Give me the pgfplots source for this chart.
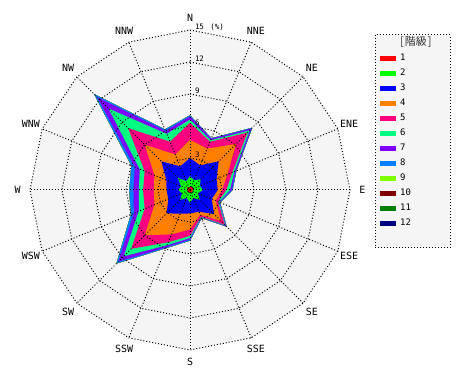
\documentclass[border=0pt]{standalone}
\usepackage{pgfplots}
\pgfplotsset{compat=1.18}
\usepackage{pgfplotstable}
\usepackage{fontspec}
\setmainfont{DejaVu Sans Mono}
\newfontfamily\cjk{Noto Sans CJK JP}
\definecolor{k1}{HTML}{FF0000}
\definecolor{k2}{HTML}{00FF00}
\definecolor{k3}{HTML}{0000FF}
\definecolor{k4}{HTML}{FF8000}
\definecolor{k5}{HTML}{FF0080}
\definecolor{k6}{HTML}{00FF80}
\definecolor{k7}{HTML}{8000FF}
\definecolor{k8}{HTML}{0080FF}
\definecolor{k9}{HTML}{80FF00}
\definecolor{k10}{HTML}{800000}
\definecolor{k11}{HTML}{008000}
\definecolor{k12}{HTML}{000080}
\definecolor{bg}{HTML}{F5F5F5}

% cumulative frequency (%) by direction (degrees clockwise from N)
\pgfplotstableread{
ang   c1   c2   c3   c4   c5   c6    c7    c8    c9    c10   c11   c12
0     0.3  1.3  3.0  4.7  6.3  6.6   6.9   7.0   7.0   7.0   7.0   7.0
22.5  0.3  1.0  2.5  4.2  4.9  5.05  5.2   5.25  5.25  5.25  5.25  5.25
45    0.4  1.4  3.8  6.1  7.6  7.9   8.15  8.25  8.25  8.25  8.25  8.25
67.5  0.3  1.0  2.7  3.8  4.3  4.5   4.65  4.7   4.7   4.7   4.7   4.7
90    0.3  1.2  2.6  3.0  3.4  3.75  3.9   4.0   4.0   4.0   4.0   4.0
112.5 0.2  0.8  2.2  2.6  2.85 2.95  3.0   3.05  3.05  3.05  3.05  3.05
135   0.3  1.3  3.2  4.1  4.6  4.7   4.8   4.85  4.85  4.85  4.85  4.85
157.5 0.2  0.8  2.2  2.5  2.7  2.75  2.8   2.85  2.85  2.85  2.85  2.85
180   0.3  1.2  2.2  3.7  4.3  4.5   4.65  4.75  4.75  4.75  4.75  4.75
202.5 0.2  0.8  2.4  4.5  5.3  5.6   5.8   5.9   5.9   5.9   5.9   5.9
225   0.3  1.3  3.1  6.0  7.8  8.8   9.5   9.75  9.75  9.75  9.75  9.75
247.5 0.2  0.8  2.2  3.6  4.6  5.2   5.7   6.0   6.0   6.0   6.0   6.0
270   0.3  1.1  2.2  3.4  4.4  4.8   5.3   5.7   5.7   5.7   5.7   5.7
292.5 0.2  0.9  2.4  3.6  4.6  5.1   5.6   5.95  5.95  5.95  5.95  5.95
315   0.4  1.6  3.8  6.0  8.2  10.8  12.3  12.7  12.7  12.7  12.7  12.7
337.5 0.2  0.9  2.4  3.6  4.9  5.7   6.0   6.15  6.15  6.15  6.15  6.15
360   0.3  1.3  3.0  4.7  6.3  6.6   6.9   7.0   7.0   7.0   7.0   7.0
}\wind

\tikzset{gridline/.style={line width=1bp, dash pattern=on 1bp off 2bp, black}}

\begin{document}
\begin{tikzpicture}
\begin{axis}[
  width=470bp, height=380bp, scale only axis,
  xmin=-17.8125, xmax=26.25, ymin=-17.8125, ymax=17.8125,
  hide axis, clip=false,
  legend image code/.code={\fill[#1] (0bp,-2.2bp) rectangle (16bp,2.2bp);},
  legend cell align=left,
  legend style={at={(axis cs:17.8125,14.2)}, anchor=north west, draw=none, fill=none,
    inner sep=0pt, row sep=5.5bp, column sep=4bp,
    font=\fontsize{9}{9}\selectfont,
    nodes={inner sep=0pt, text height=6.5bp, text depth=3bp}},
]
% full picture area
\path (axis cs:-17.8125,-17.8125) rectangle (axis cs:26.25,17.8125);
% background polygon and legend box
\addplot[fill=bg, draw=none, forget plot] table[x expr={15*sin(\thisrow{ang})}, y expr={15*cos(\thisrow{ang})}] {\wind};
\draw[gridline, fill=bg] (axis cs:17.344,14.531) rectangle (axis cs:24.375,-5.4375);

% stacked classes, outermost first
\addplot[fill=k12, draw=none, forget plot] table[x expr={\thisrow{c12}*sin(\thisrow{ang})}, y expr={\thisrow{c12}*cos(\thisrow{ang})}] {\wind};
\addplot[fill=k11, draw=none, forget plot] table[x expr={\thisrow{c11}*sin(\thisrow{ang})}, y expr={\thisrow{c11}*cos(\thisrow{ang})}] {\wind};
\addplot[fill=k10, draw=none, forget plot] table[x expr={\thisrow{c10}*sin(\thisrow{ang})}, y expr={\thisrow{c10}*cos(\thisrow{ang})}] {\wind};
\addplot[fill=k9, draw=none, forget plot] table[x expr={\thisrow{c9}*sin(\thisrow{ang})}, y expr={\thisrow{c9}*cos(\thisrow{ang})}] {\wind};
\addplot[fill=k8, draw=none, forget plot] table[x expr={\thisrow{c8}*sin(\thisrow{ang})}, y expr={\thisrow{c8}*cos(\thisrow{ang})}] {\wind};
\addplot[fill=k7, draw=none, forget plot] table[x expr={\thisrow{c7}*sin(\thisrow{ang})}, y expr={\thisrow{c7}*cos(\thisrow{ang})}] {\wind};
\addplot[fill=k6, draw=none, forget plot] table[x expr={\thisrow{c6}*sin(\thisrow{ang})}, y expr={\thisrow{c6}*cos(\thisrow{ang})}] {\wind};
\addplot[fill=k5, draw=none, forget plot] table[x expr={\thisrow{c5}*sin(\thisrow{ang})}, y expr={\thisrow{c5}*cos(\thisrow{ang})}] {\wind};
\addplot[fill=k4, draw=none, forget plot] table[x expr={\thisrow{c4}*sin(\thisrow{ang})}, y expr={\thisrow{c4}*cos(\thisrow{ang})}] {\wind};
\addplot[fill=k3, draw=none, forget plot] table[x expr={\thisrow{c3}*sin(\thisrow{ang})}, y expr={\thisrow{c3}*cos(\thisrow{ang})}] {\wind};
\addplot[fill=k2, draw=none, forget plot] table[x expr={\thisrow{c2}*sin(\thisrow{ang})}, y expr={\thisrow{c2}*cos(\thisrow{ang})}] {\wind};
\addplot[fill=k1, draw=none, forget plot] table[x expr={\thisrow{c1}*sin(\thisrow{ang})}, y expr={\thisrow{c1}*cos(\thisrow{ang})}] {\wind};

% grid rings
\pgfplotsinvokeforeach{3,6,9,12,15}{
  \addplot[gridline, forget plot] table[x expr={#1*sin(\thisrow{ang})}, y expr={#1*cos(\thisrow{ang})}] {\wind};
}
% spokes
\draw[gridline] (axis cs:0,15) -- (axis cs:0,-15);
\draw[gridline] (axis cs:5.740,13.858) -- (axis cs:-5.740,-13.858);
\draw[gridline] (axis cs:10.607,10.607) -- (axis cs:-10.607,-10.607);
\draw[gridline] (axis cs:13.858,5.740) -- (axis cs:-13.858,-5.740);
\draw[gridline] (axis cs:15,0) -- (axis cs:-15,0);
\draw[gridline] (axis cs:13.858,-5.740) -- (axis cs:-13.858,5.740);
\draw[gridline] (axis cs:10.607,-10.607) -- (axis cs:-10.607,10.607);
\draw[gridline] (axis cs:5.740,-13.858) -- (axis cs:-5.740,13.858);

% radial tick labels
\begin{scope}[every node/.style={anchor=base west, inner sep=0pt, font=\fontsize{7.5}{7.5}\selectfont}]
\node at (axis cs:0.45,3.05) {3};
\node at (axis cs:0.45,6.05) {6};
\node at (axis cs:0.45,9.05) {9};
\node at (axis cs:0.45,12.05) {12};
\node at (axis cs:0.45,15.05) {15};
\node at (axis cs:1.9,15.05) {(\%)};
\end{scope}

% direction labels
\begin{scope}[every node/.style={anchor=center, inner sep=0pt, font=\fontsize{10}{10}\selectfont}]
\node at (axis cs:0,16.15) {N};
\node at (axis cs:6.18,14.921) {NNE};
\node at (axis cs:11.42,11.42) {NE};
\node at (axis cs:14.921,6.18) {ENE};
\node at (axis cs:16.15,0) {E};
\node at (axis cs:14.921,-6.18) {ESE};
\node at (axis cs:11.42,-11.42) {SE};
\node at (axis cs:6.18,-14.921) {SSE};
\node at (axis cs:0,-16.15) {S};
\node at (axis cs:-6.18,-14.921) {SSW};
\node at (axis cs:-11.42,-11.42) {SW};
\node at (axis cs:-14.921,-6.18) {WSW};
\node at (axis cs:-16.15,0) {W};
\node at (axis cs:-14.921,6.18) {WNW};
\node at (axis cs:-11.42,11.42) {NW};
\node at (axis cs:-6.18,14.921) {NNW};
\end{scope}

% legend
\addlegendimage{empty legend}
\addlegendentry{\cjk\fontsize{11}{11}\selectfont\textcolor{black!80}{[\kern1bp 階級\kern1bp]}}
\addlegendimage{fill=k1, draw=none}\addlegendentry{1}
\addlegendimage{fill=k2, draw=none}\addlegendentry{2}
\addlegendimage{fill=k3, draw=none}\addlegendentry{3}
\addlegendimage{fill=k4, draw=none}\addlegendentry{4}
\addlegendimage{fill=k5, draw=none}\addlegendentry{5}
\addlegendimage{fill=k6, draw=none}\addlegendentry{6}
\addlegendimage{fill=k7, draw=none}\addlegendentry{7}
\addlegendimage{fill=k8, draw=none}\addlegendentry{8}
\addlegendimage{fill=k9, draw=none}\addlegendentry{9}
\addlegendimage{fill=k10, draw=none}\addlegendentry{10}
\addlegendimage{fill=k11, draw=none}\addlegendentry{11}
\addlegendimage{fill=k12, draw=none}\addlegendentry{12}
\end{axis}
\end{tikzpicture}
\end{document}
